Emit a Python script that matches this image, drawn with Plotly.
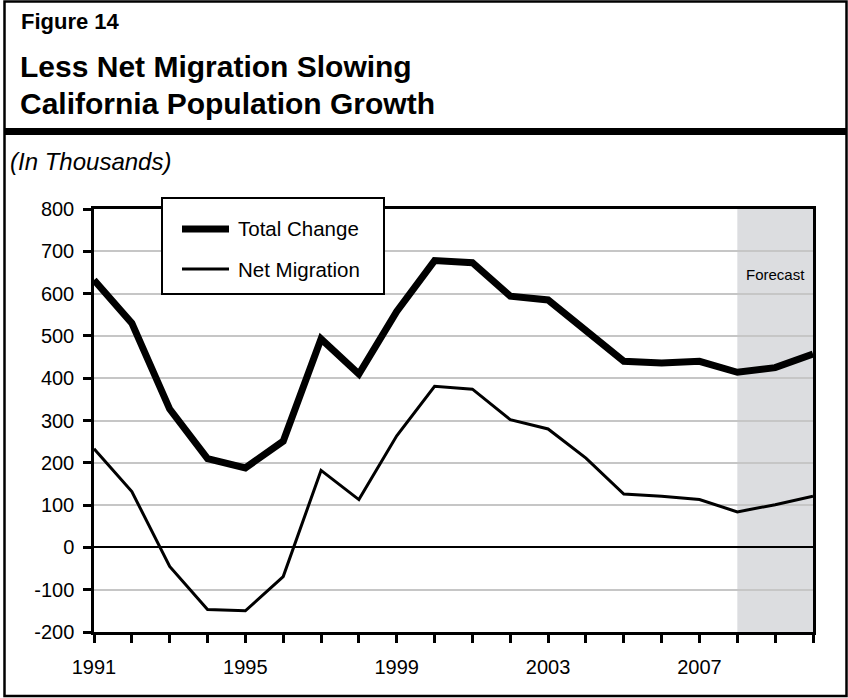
import plotly.graph_objects as go

# California population change, thousands
years = list(range(1991, 2011))
total_change = [632, 530, 327, 210, 188, 251, 493, 410, 558, 678, 673, 594, 585, 512,
                440, 436, 440, 414, 425, 457]
net_migration = [233, 132, -45, -147, -150, -69, 182, 113, 264, 381, 374, 302, 280, 211,
                 126, 121, 113, 84, 101, 121]
year_labels = ["1991", "1995", "1999", "2003", "2007"]
y_ticks = [-200, -100, 0, 100, 200, 300, 400, 500, 600, 700, 800]
y_tick_labels = ["-200", "-100", "0", "100", "200", "300", "400", "500", "600", "700", "800"]
forecast_start, forecast_end = 2008, 2010

W, H = 848, 698
ML, MR, MT, MB = 94, 35, 209, 66
PW, PH = W - ML - MR, H - MT - MB
FONT = "Liberation Sans, Arial, Helvetica, sans-serif"


def px(xp):
    return (xp - ML) / PW


def py(yp):
    return (H - MB - yp) / PH


series = [
    ("Total Change", total_change, 7),
    ("Net Migration", net_migration, 3),
]

fig = go.Figure()
for name, values, width in series:
    fig.add_trace(go.Scatter(x=years, y=values, mode="lines", name=name,
                             line=dict(color="black", width=width)))

tick_text = [str(y) if str(y) in year_labels else "" for y in years]

shapes = [
    # forecast period
    dict(type="rect", xref="x", yref="paper", x0=forecast_start, x1=forecast_end,
         y0=0, y1=1, fillcolor="#dcdde0", line=dict(width=0), layer="below"),
    # outer frame
    dict(type="rect", xref="paper", yref="paper", x0=px(4.5), x1=px(846.5),
         y0=py(1.5), y1=py(696), line=dict(color="black", width=2.5)),
    # heavy rule under the heading
    dict(type="rect", xref="paper", yref="paper", x0=px(4.5), x1=px(846.5),
         y0=py(128), y1=py(135), fillcolor="black", line=dict(width=0)),
    # key box
    dict(type="rect", xref="paper", yref="paper", x0=px(162), x1=px(384),
         y0=py(198), y1=py(294), fillcolor="white", line=dict(color="black", width=2),
         layer="above"),
]

annotations = [
    dict(text="<b>Figure 14</b>", xref="paper", yref="paper", x=px(19), y=py(22),
         xanchor="left", yanchor="middle", showarrow=False, font=dict(size=22)),
    dict(text="<b>Less Net Migration Slowing</b>", xref="paper", yref="paper",
         x=px(18), y=py(67), xanchor="left", yanchor="middle", showarrow=False,
         font=dict(size=30)),
    dict(text="<b>California Population Growth</b>", xref="paper", yref="paper",
         x=px(18), y=py(104), xanchor="left", yanchor="middle", showarrow=False,
         font=dict(size=30)),
    dict(text="<i>(In Thousands)</i>", xref="paper", yref="paper", x=px(8), y=py(161),
         xanchor="left", yanchor="middle", showarrow=False, font=dict(size=24)),
    dict(text="Forecast", xref="x", yref="paper", x=(forecast_start + forecast_end) / 2,
         y=py(274), xanchor="center", yanchor="middle", showarrow=False,
         font=dict(size=15)),
]

# key entries
for i, (name, _, width) in enumerate(series):
    yk = 229 + 40 * i
    shapes.append(dict(type="line", xref="paper", yref="paper", x0=px(182), x1=px(229),
                       y0=py(yk), y1=py(yk), line=dict(color="black", width=width),
                       layer="above"))
    annotations.append(dict(text=name, xref="paper", yref="paper", x=px(236), y=py(yk),
                            xanchor="left", yanchor="middle", showarrow=False,
                            font=dict(size=20.5)))

fig.update_layout(
    width=W, height=H,
    margin=dict(l=ML, r=MR, t=MT, b=MB),
    paper_bgcolor="white", plot_bgcolor="white",
    font=dict(family=FONT, color="black"),
    showlegend=False,
    xaxis=dict(range=[1991, 2010], tickvals=years, ticktext=tick_text,
               ticks="outside", ticklen=8, tickwidth=2.5, tickcolor="black",
               showline=True, linecolor="black", linewidth=2.5, mirror=True,
               showgrid=False, zeroline=False, tickfont=dict(size=20),
               ticklabelstandoff=7),
    yaxis=dict(range=[-200, 800], tickvals=y_ticks, ticktext=y_tick_labels,
               ticks="outside", ticklen=8, tickwidth=2.5, tickcolor="black",
               showline=True, linecolor="black", linewidth=2.5, mirror=True,
               showgrid=True, gridcolor="#c6c6c6", gridwidth=2,
               zeroline=True, zerolinecolor="black", zerolinewidth=2,
               tickfont=dict(size=20), ticklabelstandoff=5),
    shapes=shapes,
    annotations=annotations,
)

fig.write_html("out.html")
